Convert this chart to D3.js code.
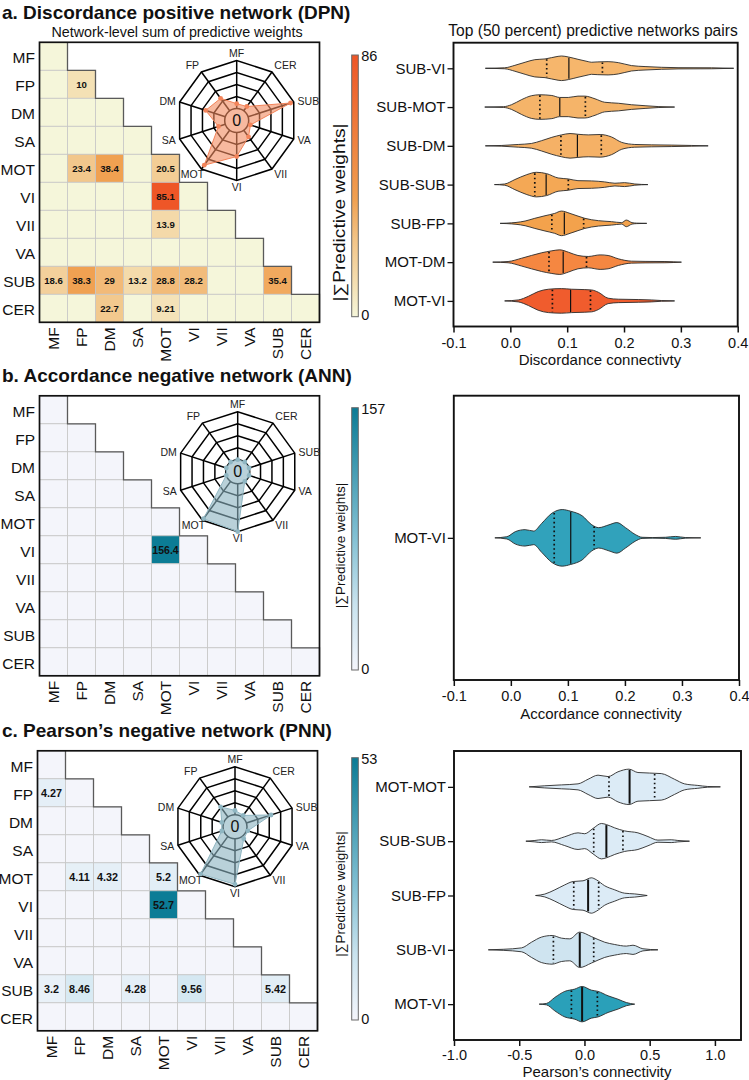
<!DOCTYPE html>
<html><head><meta charset="utf-8">
<script src="https://cdn.jsdelivr.net/npm/d3@7"></script>
<style>
body{margin:0;background:#fff}
svg{display:block}
text{font-family:"Liberation Sans",Arial,Helvetica,sans-serif;fill:#111}
</style>
</head><body>
<svg id="chart" width="749" height="1080"></svg>
<script>
// ---------------- DATA ----------------
const networks = ["MF","FP","DM","SA","MOT","VI","VII","VA","SUB","CER"];

// non-zero lower-triangle cells: [row, column, value]
const cellsA = [["FP","FP",10],["MOT","FP",23.4],["MOT","DM",38.4],["MOT","MOT",20.5],["VI","MOT",85.1],["VII","MOT",13.9],
  ["SUB","MF",18.6],["SUB","FP",38.3],["SUB","DM",29],["SUB","SA",13.2],["SUB","MOT",28.8],["SUB","VI",28.2],["SUB","SUB",35.4],
  ["CER","DM",22.7],["CER","MOT",9.21]];
const cellsB = [["VI","MOT",156.4]];
const cellsC = [["FP","MF",4.27],["MOT","FP",4.11],["MOT","DM",4.32],["MOT","MOT",5.2],["VI","MOT",52.7],
  ["SUB","MF",3.2],["SUB","FP",8.46],["SUB","SA",4.28],["SUB","VI",9.56],["SUB","SUB",5.42]];
const colorMaxA = 86, colorMaxB = 157, colorMaxC = 53;

// radar: relative network strength (0..1), in networks order
const radarA = [0.10, 0.32, 0.43, 0.15, 0.90, 0.50, 0.17, 0.05, 0.93, 0.11];
const radarB = [0, 0, 0, 0, 0.96, 1.0, 0, 0, 0, 0];
const radarC = [0.09, 0.26, 0.04, 0.04, 0.97, 0.95, 0.06, 0.03, 0.54, 0.04];

// violins: [value, relative density]
const pairsA = ["SUB-VI","SUB-MOT","SUB-DM","SUB-SUB","SUB-FP","MOT-DM","MOT-VI"];
const q1A  = [0.064, 0.052, 0.089, 0.043, 0.073, 0.068, 0.074];
const medA = [0.103, 0.087, 0.118, 0.063, 0.095, 0.093, 0.106];
const q3A  = [0.162, 0.132, 0.160, 0.102, 0.129, 0.134, 0.141];
const profilesA = [
  [[-0.044,0],[-0.010,0.04],[0.008,0.24],[0.026,0.49],[0.043,0.70],[0.061,0.76],[0.084,0.97],[0.090,1.0],[0.102,0.92],[0.119,0.73],[0.137,0.54],[0.143,0.49],[0.154,0.52],[0.172,0.54],[0.190,0.46],[0.213,0.22],[0.237,0.14],[0.266,0.08],[0.295,0.05],[0.354,0.04],[0.393,0]],
  [[-0.045,0],[-0.012,0.03],[0.002,0.19],[0.020,0.61],[0.037,0.92],[0.052,1.0],[0.073,0.94],[0.087,0.78],[0.102,0.78],[0.119,0.89],[0.131,0.89],[0.149,0.67],[0.166,0.39],[0.190,0.31],[0.213,0.19],[0.237,0.11],[0.260,0.04],[0.289,0]],
  [[-0.044,0],[-0.015,0.03],[0.014,0.11],[0.037,0.19],[0.055,0.42],[0.073,0.69],[0.090,0.89],[0.105,1.0],[0.119,0.94],[0.137,0.89],[0.158,0.92],[0.178,0.72],[0.196,0.28],[0.219,0.11],[0.248,0.08],[0.283,0.06],[0.319,0.03],[0.348,0]],
  [[-0.028,0],[-0.010,0.05],[0.008,0.41],[0.029,0.81],[0.046,1.0],[0.064,0.89],[0.084,0.54],[0.102,0.46],[0.119,0.32],[0.143,0.30],[0.166,0.22],[0.184,0.11],[0.201,0.16],[0.219,0.05],[0.242,0]],
  [[-0.018,0],[-0.006,0.02],[0.026,0.19],[0.043,0.41],[0.061,0.62],[0.078,0.81],[0.090,1.0],[0.105,0.81],[0.119,0.59],[0.131,0.41],[0.155,0.22],[0.178,0.14],[0.196,0.06],[0.204,0.27],[0.214,0.06],[0.222,0.02],[0.240,0]],
  [[-0.031,0],[-0.004,0.05],[0.020,0.32],[0.037,0.54],[0.055,0.76],[0.073,0.92],[0.087,1.0],[0.102,0.81],[0.119,0.54],[0.137,0.46],[0.158,0.59],[0.172,0.54],[0.190,0.27],[0.213,0.08],[0.237,0.06],[0.272,0.05],[0.301,0]],
  [[-0.010,0],[0.014,0.08],[0.032,0.38],[0.049,0.76],[0.067,0.95],[0.090,1.0],[0.108,0.95],[0.131,0.92],[0.143,0.89],[0.155,0.70],[0.172,0.22],[0.190,0.14],[0.225,0.11],[0.248,0.08],[0.266,0.03],[0.289,0]]
];

const pairsB = ["MOT-VI"];
const q1B = [0.076], medB = [0.105], q3B = [0.146];
const profilesB = [
  [[-0.028,0],[-0.007,0.04],[0.008,0.22],[0.025,0.29],[0.040,0.24],[0.054,0.51],[0.072,0.87],[0.090,1.0],[0.105,0.94],[0.125,0.78],[0.142,0.46],[0.154,0.36],[0.172,0.46],[0.186,0.54],[0.201,0.36],[0.218,0.12],[0.230,0.02],[0.248,0.01],[0.271,0.02],[0.289,0.05],[0.306,0.01],[0.333,0]]
];

const pairsC = ["MOT-MOT","SUB-SUB","SUB-FP","SUB-VI","MOT-VI"];
const q1C  = [0.188, 0.071, -0.082, -0.238, -0.100];
const medC = [0.346, 0.168, 0.028, -0.036, -0.018];
const q3C  = [0.538, 0.295, 0.109, 0.071, 0.099];
const profilesC = [
  [[-0.424,0],[-0.304,0.06],[-0.176,0.11],[-0.049,0.17],[0.028,0.43],[0.104,0.66],[0.181,0.58],[0.257,0.85],[0.341,1.0],[0.410,0.81],[0.589,0.75],[0.690,0.43],[0.767,0.17],[0.869,0.08],[0.945,0.02],[1.042,0]],
  [[-0.449,0],[-0.380,0.04],[-0.329,0.08],[-0.253,0.04],[-0.151,0.25],[-0.049,0.47],[0.002,0.42],[0.066,0.72],[0.130,1.0],[0.168,0.94],[0.232,0.75],[0.308,0.58],[0.410,0.47],[0.487,0.26],[0.563,0.06],[0.665,0.08],[0.716,0.04],[0.805,0]],
  [[-0.375,0],[-0.304,0.08],[-0.227,0.32],[-0.151,0.60],[-0.087,0.79],[-0.011,0.83],[0.053,1.0],[0.091,0.89],[0.155,0.55],[0.232,0.32],[0.308,0.13],[0.385,0.09],[0.481,0]],
  [[-0.737,0],[-0.623,0.03],[-0.482,0.11],[-0.406,0.43],[-0.329,0.72],[-0.248,0.81],[-0.176,0.66],[-0.113,0.62],[-0.036,1.0],[0.053,0.75],[0.155,0.43],[0.232,0.30],[0.321,0.21],[0.372,0.26],[0.448,0.06],[0.563,0]],
  [[-0.347,0],[-0.291,0.04],[-0.227,0.38],[-0.151,0.72],[-0.074,0.85],[-0.018,1.0],[0.053,0.79],[0.104,0.72],[0.181,0.47],[0.257,0.28],[0.321,0.09],[0.385,0]]
];

const ticksAB = [-0.1, 0.0, 0.1, 0.2, 0.3, 0.4];
const ticksC = [-1.0, -0.5, 0.0, 0.5, 1.0];

// ---------------- STYLES ----------------
const violinColorsA = ["#f6b66c","#f5b469","#f5b166","#f4a855","#f3a24c","#f58741","#f05c2d"];
const violinColorsB = ["#31a2bb"];
const violinColorsC = ["#dcebf6","#dcebf6","#dcebf6","#cfe4f0","#2aa0b9"];

const orangeScale = d3.scaleLinear().domain([0,0.12,0.3,0.45,1]).range(["#f5f6da","#f4e0b4","#f2c385","#f0a050","#ee5526"]).clamp(true);
const tealScale = d3.scaleLinear().domain([0,0.1,0.25,0.5,1]).range(["#f4f5fb","#e2eef6","#c9e3ee","#84c1d4","#0b7b95"]).clamp(true);

const svg = d3.select("#chart");
const defs = svg.append("defs");

// ---------------- HELPERS ----------------
function text(g, x, y, str, o = {}) {
  const t = g.append("text").attr("x", x).attr("y", y).text(str)
    .attr("font-size", o.size || 14).attr("text-anchor", o.anchor || "start");
  if (o.weight) t.attr("font-weight", o.weight);
  if (o.transform) t.attr("transform", o.transform);
  return t;
}

function drawHeatmap(g, cells, maxV, scale, x0, y0, valSize) {
  const size = 280;
  const xb = d3.scaleBand().domain(networks).range([x0, x0 + size]);
  const yb = d3.scaleBand().domain(networks).range([y0, y0 + size]);
  const bw = xb.bandwidth(), bh = yb.bandwidth();
  const lookup = new Map(cells.map(c => [c[0] + "|" + c[1], c[2]]));
  const data = [];
  networks.forEach((r, i) => networks.forEach((c, j) => {
    if (j <= i) data.push({ r, c, v: lookup.get(r + "|" + c) || 0 });
  }));
  g.append("g").selectAll("rect").data(data).join("rect")
    .attr("x", d => xb(d.c)).attr("y", d => yb(d.r))
    .attr("width", bw).attr("height", bh)
    .attr("fill", d => scale(d.v / maxV))
    .attr("stroke", "#c6c6c6").attr("stroke-width", 0.8);
  g.append("g").selectAll("text").data(data.filter(d => d.v > 0)).join("text")
    .attr("x", d => xb(d.c) + bw / 2).attr("y", d => yb(d.r) + bh / 2)
    .attr("dy", "0.36em").attr("text-anchor", "middle")
    .attr("font-size", valSize).attr("font-weight", "bold")
    .text(d => d.v);
  // staircase
  let p = `M${xb(networks[0]) + bw},${y0}`;
  networks.forEach((n, i) => {
    p += `V${yb(n) + bh}`;
    if (i < networks.length - 1) p += `H${xb(networks[i + 1]) + bw}`;
  });
  g.append("path").attr("d", p).attr("fill", "none").attr("stroke", "#5a5a5a").attr("stroke-width", 1.3);
  g.append("rect").attr("x", x0).attr("y", y0).attr("width", size).attr("height", size)
    .attr("fill", "none").attr("stroke", "#111").attr("stroke-width", 1.7);
  // row / column labels
  networks.forEach(n => {
    text(g, x0 - 4.5, yb(n) + bh / 2 + 1.5, n, { size: 15.5, anchor: "end" }).attr("dy", "0.35em");
    text(g, 0, 0, n, { size: 15.5, anchor: "end", transform: `translate(${xb(n) + bw / 2},${y0 + size + 5}) rotate(-90)` }).attr("dy", "0.35em");
  });
}

function drawRadar(g, cx, cy, vals, fill, stroke) {
  const n = networks.length;
  const ang = i => -i * 2 * Math.PI / n;
  const rs = d3.scaleLinear().domain([0, 1]).range([12, 60]);
  const ring = d3.lineRadial().angle((d, i) => ang(i)).radius(d => rs(d)).curve(d3.curveLinearClosed);
  const gg = g.append("g").attr("transform", `translate(${cx},${cy})`);
  [0.25, 0.5, 0.75, 1].forEach(v => {
    gg.append("path").attr("d", ring(networks.map(() => v))).attr("fill", "none").attr("stroke", "#000").attr("stroke-width", 1.5);
  });
  networks.forEach((nm, i) => {
    const a = ang(i);
    gg.append("line")
      .attr("x1", rs(0) * Math.sin(a)).attr("y1", -rs(0) * Math.cos(a))
      .attr("x2", rs(1) * Math.sin(a)).attr("y2", -rs(1) * Math.cos(a))
      .attr("stroke", "#000").attr("stroke-width", 1.5);
  });
  gg.append("circle").attr("r", rs(0)).attr("fill", "none").attr("stroke", "#000").attr("stroke-width", 1.5);
  gg.append("path").attr("d", ring(vals)).attr("fill", fill).attr("fill-opacity", 0.6)
    .attr("stroke", stroke).attr("stroke-width", 1);
  gg.selectAll("circle.pt").data(vals).join("circle").attr("class", "pt")
    .attr("cx", (d, i) => rs(d) * Math.sin(ang(i))).attr("cy", (d, i) => -rs(d) * Math.cos(ang(i)))
    .attr("r", 2.4).attr("fill", stroke);
  text(gg, 0, 0, "0", { size: 16, anchor: "middle" }).attr("dy", "0.36em");
  networks.forEach((nm, i) => {
    const a = ang(i), s = Math.sin(a), c = Math.cos(a);
    const px = 64 * s, py = -64 * c;
    const anchor = s > 0.2 ? "start" : (s < -0.2 ? "end" : "middle");
    const dy = c > 0.5 ? 0 : (c < -0.5 ? 6 : 4);
    const ox = (c < -0.5 && s < -0.2) ? 5 : 0;
    text(gg, px + ox, py + dy, nm, { size: 10.5, anchor }).style("fill", "#222");
  });
}

function drawColorbar(g, id, scale, maxV, x, y0, y1, labelCy, labelSize, labelLen) {
  const grad = defs.append("linearGradient").attr("id", id).attr("x1", 0).attr("y1", 1).attr("x2", 0).attr("y2", 0);
  d3.range(0, 1.0001, 0.05).forEach(t => grad.append("stop").attr("offset", t).attr("stop-color", scale(t)));
  g.append("rect").attr("x", x).attr("y", y0).attr("width", 6.6).attr("height", y1 - y0)
    .attr("fill", `url(#${id})`).attr("stroke", "#6a6a6a").attr("stroke-width", 1);
  text(g, x + 9.5, y0 + 6, String(maxV), { size: 14.5 });
  text(g, x + 9.5, y1 + 3.5, "0", { size: 14.5 });
  const t = text(g, 0, 0, "|\u2211Predictive weights|", { size: labelSize, anchor: "middle", transform: `translate(345,${labelCy}) rotate(-90)` });
  if (labelLen) t.attr("textLength", labelLen).attr("lengthAdjust", "spacingAndGlyphs");
}

function interp(profile, v) {
  for (let i = 1; i < profile.length; i++) {
    if (v <= profile[i][0]) {
      const [a0, d0] = profile[i - 1], [a1, d1] = profile[i];
      return d0 + (d1 - d0) * (v - a0) / (a1 - a0);
    }
  }
  return 0;
}

function drawViolins(g, o) {
  const x = d3.scaleLinear().domain(o.domain).range([o.x0, o.x1]);
  const y = d3.scalePoint().domain(o.pairs).range([o.y0, o.y1]).padding(0.66);
  const w = d3.scaleLinear().domain([0, 1]).range([0, o.half]);
  o.pairs.forEach((p, i) => {
    const yc = y(p), prof = o.profiles[i];
    const area = d3.area().x(d => x(d[0])).y0(d => yc - w(d[1])).y1(d => yc + w(d[1])).curve(d3.curveMonotoneX);
    g.append("path").attr("d", area(prof)).attr("fill", o.colors[i]).attr("stroke", "#2a2a2a").attr("stroke-width", 0.9);
    [[o.q1[i], true], [o.q3[i], true], [o.med[i], false]].forEach(([v, dotted]) => {
      const hw = w(interp(prof, v));
      const ln = g.append("line").attr("x1", x(v)).attr("x2", x(v)).attr("y1", yc - hw + 0.6).attr("y2", yc + hw - 0.6)
        .attr("stroke", "#111");
      if (dotted) ln.attr("stroke-width", 1.7).attr("stroke-dasharray", "1.6,2.8");
      else ln.attr("stroke-width", o.medW);
    });
  });
  // y axis
  const ya = g.append("g").attr("transform", `translate(${o.x0},0)`)
    .call(d3.axisLeft(y).tickSize(6).tickPadding(2).tickSizeOuter(0));
  ya.select(".domain").remove();
  ya.selectAll("line").attr("stroke", "#111").attr("stroke-width", 1.3);
  ya.selectAll("text").attr("font-size", 15).attr("font-family", null).style("fill", "#111");
  // x axis
  const xa = g.append("g").attr("transform", `translate(0,${o.y1})`)
    .call(d3.axisBottom(x).tickValues(o.ticks).tickSize(6).tickSizeOuter(0).tickFormat(d => d.toFixed(1)));
  xa.select(".domain").remove();
  xa.selectAll("line").attr("stroke", "#111").attr("stroke-width", 1.5);
  xa.selectAll("text").attr("font-size", 14.5).attr("font-family", null).attr("dy", null)
    .attr("y", o.tickY - o.y1).style("fill", "#111");
  g.append("rect").attr("x", o.x0).attr("y", o.y0).attr("width", o.x1 - o.x0).attr("height", o.y1 - o.y0)
    .attr("fill", "none").attr("stroke", "#111").attr("stroke-width", 1.9);
  text(g, o.titleX, o.titleY, o.title, { size: 15, anchor: "middle" });
}

// ---------------- PANEL A ----------------
const gA = svg.append("g");
text(gA, 2, 18.5, "a. Discordance positive network (DPN)", { size: 19, weight: "bold" });
text(gA, 177, 37, "Network-level sum of predictive weights", { size: 14.3, anchor: "middle" });
text(gA, 593, 36, "Top (50 percent) predictive networks pairs", { size: 15.6, anchor: "middle" });
drawHeatmap(gA, cellsA, colorMaxA, orangeScale, 39.5, 42.3, 9.6);
drawRadar(gA, 236.7, 120.5, radarA, "#f28a5f", "#f3845a");
drawColorbar(gA, "gradA", orangeScale, colorMaxA, 351.7, 55, 316.7, 212.5, 16, 178);
drawViolins(gA, { pairs: pairsA, profiles: profilesA, q1: q1A, med: medA, q3: q3A, colors: violinColorsA,
  domain: [-0.1, 0.4], ticks: ticksAB, x0: 453.5, x1: 737.7, y0: 42.7, y1: 326.5, half: 12.3, medW: 1.2,
  tickY: 347.5, title: "Discordance connectivty", titleX: 600, titleY: 365 });

// ---------------- PANEL B ----------------
const gB = svg.append("g");
text(gB, 2, 381.5, "b. Accordance negative network (ANN)", { size: 19, weight: "bold" });
drawHeatmap(gB, cellsB, colorMaxB, tealScale, 39.5, 395.8, 10.5);
drawRadar(gB, 237.7, 471.7, radarB, "#8ab3bf", "#8fb6c2");
drawColorbar(gB, "gradB", tealScale, colorMaxB, 351.7, 407.7, 670, 545.5, 13.5, null);
drawViolins(gB, { pairs: pairsB, profiles: profilesB, q1: q1B, med: medB, q3: q3B, colors: violinColorsB,
  domain: [-0.1, 0.4], ticks: ticksAB, x0: 453.8, x1: 739, y0: 395.7, y1: 680, half: 28.3, medW: 1.2,
  tickY: 701, title: "Accordance connectivity", titleX: 601, titleY: 718.5 });

// ---------------- PANEL C ----------------
const gC = svg.append("g");
text(gC, 2, 736.5, "c. Pearson\u2019s negative network (PNN)", { size: 19, weight: "bold" });
drawHeatmap(gC, cellsC, colorMaxC, tealScale, 37.5, 750.8, 10.8);
drawRadar(gC, 235, 826.7, radarC, "#8ab3bf", "#8fb6c2");
drawColorbar(gC, "gradC", tealScale, colorMaxC, 351.7, 757.7, 1020, 894, 13.5, null);
drawViolins(gC, { pairs: pairsC, profiles: profilesC, q1: q1C, med: medC, q3: q3C, colors: violinColorsC,
  domain: [-1.0, 1.2], ticks: ticksC, x0: 454, x1: 741, y0: 751, y1: 1040, half: 17.7, medW: 2,
  tickY: 1060, title: "Pearson\u2019s connectivity", titleX: 597, titleY: 1077 });
</script>
</body></html>
